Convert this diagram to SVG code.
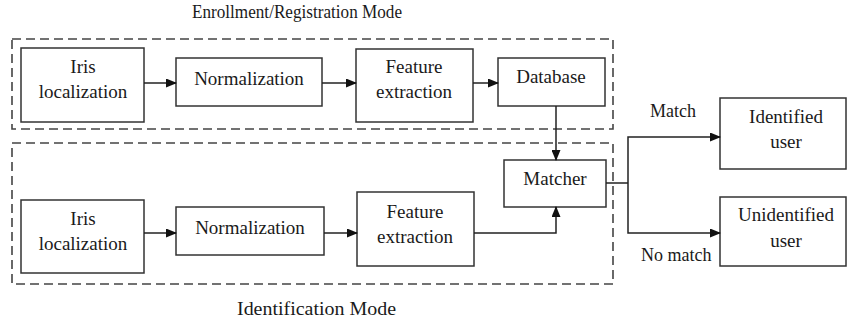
<svg xmlns="http://www.w3.org/2000/svg" width="847" height="326" viewBox="0 0 847 326">
<defs>
<marker id="ah" markerWidth="11" markerHeight="9" refX="10" refY="4.5" orient="auto" markerUnits="userSpaceOnUse">
<path d="M0,0 L11,4.5 L0,9 z" fill="#111"/>
</marker>
<style>
.box{fill:#fff;stroke:#333;stroke-width:1.5}
.grp{fill:none;stroke:#444;stroke-width:1.6;stroke-dasharray:9,5}
.t{font-size:19px;fill:#1a1a1a;text-anchor:middle}
.lbl{font-size:18px;fill:#1a1a1a}
.c{fill:none;stroke:#222;stroke-width:1.5}
</style>
</defs>
<rect width="847" height="326" fill="#fff"/>
<g font-family="'Liberation Serif', 'DejaVu Serif', serif">
<g id="enrollment-group">
<rect class="grp" x="12" y="39" width="601" height="90"/>
<text class="lbl" x="192" y="18" textLength="210" lengthAdjust="spacingAndGlyphs">Enrollment/Registration Mode</text>
</g>
<g id="identification-group">
<rect class="grp" x="12" y="143" width="601" height="141"/>
<text class="lbl" x="237" y="315" textLength="159" lengthAdjust="spacingAndGlyphs">Identification Mode</text>
</g>
<g id="iris1"><rect class="box" x="21" y="48" width="123" height="74"/><text class="t" x="83" y="73">Iris</text><text class="t" x="83" y="98">localization</text></g>
<g id="norm1"><rect class="box" x="176" y="58" width="146" height="48"/><text class="t" x="249" y="85">Normalization</text></g>
<g id="feat1"><rect class="box" x="356" y="49" width="117" height="73"/><text class="t" x="414" y="73">Feature</text><text class="t" x="414" y="98">extraction</text></g>
<g id="db"><rect class="box" x="498" y="58" width="107" height="48"/><text class="t" x="551" y="83">Database</text></g>
<g id="matcher"><rect class="box" x="504" y="160" width="102" height="47"/><text class="t" x="555" y="185">Matcher</text></g>
<g id="iris2"><rect class="box" x="21" y="200" width="123" height="73"/><text class="t" x="83" y="225">Iris</text><text class="t" x="83" y="250">localization</text></g>
<g id="norm2"><rect class="box" x="176" y="207" width="148" height="48"/><text class="t" x="250" y="234">Normalization</text></g>
<g id="feat2"><rect class="box" x="357" y="192" width="117" height="74"/><text class="t" x="415" y="218">Feature</text><text class="t" x="415" y="243">extraction</text></g>
<g id="identified"><rect class="box" x="720" y="98" width="126" height="71"/><text class="t" x="786" y="123">Identified</text><text class="t" x="786" y="148">user</text></g>
<g id="unidentified"><rect class="box" x="720" y="197" width="126" height="69"/><text class="t" x="786" y="221">Unidentified</text><text class="t" x="786" y="247">user</text></g>
<g id="connectors">
<line class="c" x1="144" y1="83" x2="176" y2="83" marker-end="url(#ah)"/>
<line class="c" x1="322" y1="83" x2="356" y2="83" marker-end="url(#ah)"/>
<line class="c" x1="473" y1="83" x2="498" y2="83" marker-end="url(#ah)"/>
<line class="c" x1="556" y1="106" x2="556" y2="160" marker-end="url(#ah)"/>
<line class="c" x1="144" y1="233" x2="176" y2="233" marker-end="url(#ah)"/>
<line class="c" x1="324" y1="233" x2="357" y2="233" marker-end="url(#ah)"/>
<polyline class="c" points="474,233 556,233 556,207" marker-end="url(#ah)"/>
<polyline class="c" points="606,183 628,183"/>
<polyline class="c" points="628,183 628,137 720,137" marker-end="url(#ah)"/>
<polyline class="c" points="628,183 628,233 720,233" marker-end="url(#ah)"/>
<text class="lbl" x="650" y="117">Match</text>
<text class="lbl" x="641" y="261">No match</text>
</g>
</g>
</svg>
